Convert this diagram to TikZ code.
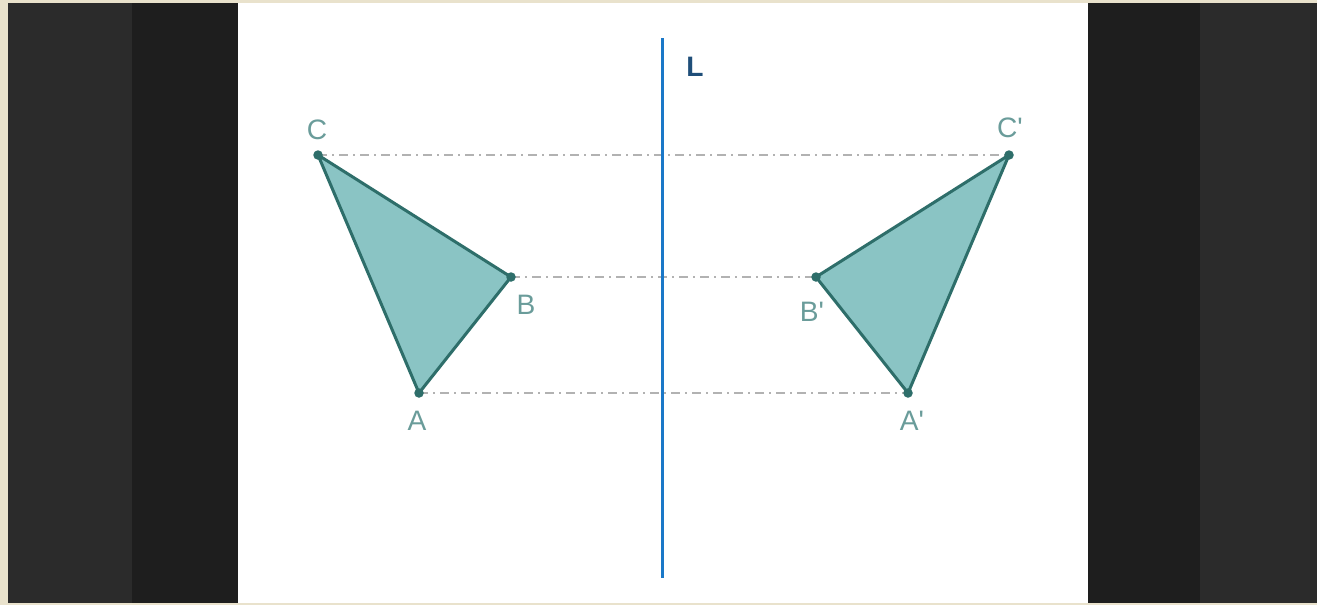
\documentclass[tikz,border=0pt]{standalone}
\usepackage{fontspec}
\setmainfont{Liberation Sans}
\usepackage{tikz}

\definecolor{frame}{HTML}{E9E2CC}
\definecolor{boardA}{HTML}{2B2B2B}
\definecolor{boardB}{HTML}{1E1E1E}
\definecolor{triFill}{HTML}{8AC4C4}
\definecolor{triEdge}{HTML}{2E6E6A}
\definecolor{lblcol}{HTML}{6A9C9A}
\definecolor{mirror}{HTML}{1A78C8}
\definecolor{mirrorlbl}{HTML}{1F4E79}

\tikzset{
  tri/.style={fill=triFill, draw=triEdge, line width=0.6mm, line join=round},
  vtx/.style={circle, fill=triEdge, inner sep=0pt, minimum size=1.9mm},
  lbl/.style={text=lblcol, font=\fontsize{16}{18}\selectfont, inner sep=0pt},
  guide/.style={draw=gray!60, line width=0.3mm, dash pattern=on 1.8mm off 1.0mm on 0.4mm off 1.0mm}
}
\newcommand{\pr}{\textquotesingle}

\begin{document}
\begin{tikzpicture}[x=0.2mm, y=-0.2mm]
% ===== background =====
\fill[frame] (0,0) rectangle (1317,605);
\fill[boardA] (8,3) rectangle (132,603);
\fill[boardB] (132,3) rectangle (238,603);
\fill[white] (238,3) rectangle (1088,603);
\fill[boardB] (1088,3) rectangle (1200,603);
\fill[boardA] (1200,3) rectangle (1317,603);
\useasboundingbox (0,0) rectangle (1317,605);

% ===== vertices =====
% original triangle
\coordinate (C) at (318,155);
\coordinate (B) at (511,277);
\coordinate (A) at (419,393);
% mirror image
\coordinate (C') at (1009,155);
\coordinate (B') at (816,277);
\coordinate (A') at (908,393);

% dash-dot guides joining each point to its image
\draw[guide] (C) -- (C');
\draw[guide] (B) -- (B');
\draw[guide] (A) -- (A');

% ===== mirror line L =====
\coordinate (Ltop) at (662,38);
\coordinate (Lbot) at (662,578);
\draw[mirror, line width=0.6mm] (Ltop) -- (Lbot);
\node[text=mirrorlbl, font=\fontsize{16}{18}\selectfont\bfseries] (Llbl) at (695,67) {L};

% ===== triangles =====
\draw[tri] (A) -- (B) -- (C) -- cycle;
\draw[tri] (A') -- (B') -- (C') -- cycle;

% vertex dots
\foreach \p in {A,B,C,A',B',C'}
  \node[vtx] (dot\p) at (\p) {};

% labels
\node[lbl] (lC) at (317,130) {C};
\node[lbl] (lB) at (526,305) {B};
\node[lbl] (lA) at (417,421) {A};
\node[lbl] (lC') at (1010,128) {C\pr};
\node[lbl] (lB') at (812,312) {B\pr};
\node[lbl] (lA') at (912,421) {A\pr};
\end{tikzpicture}
\end{document}
